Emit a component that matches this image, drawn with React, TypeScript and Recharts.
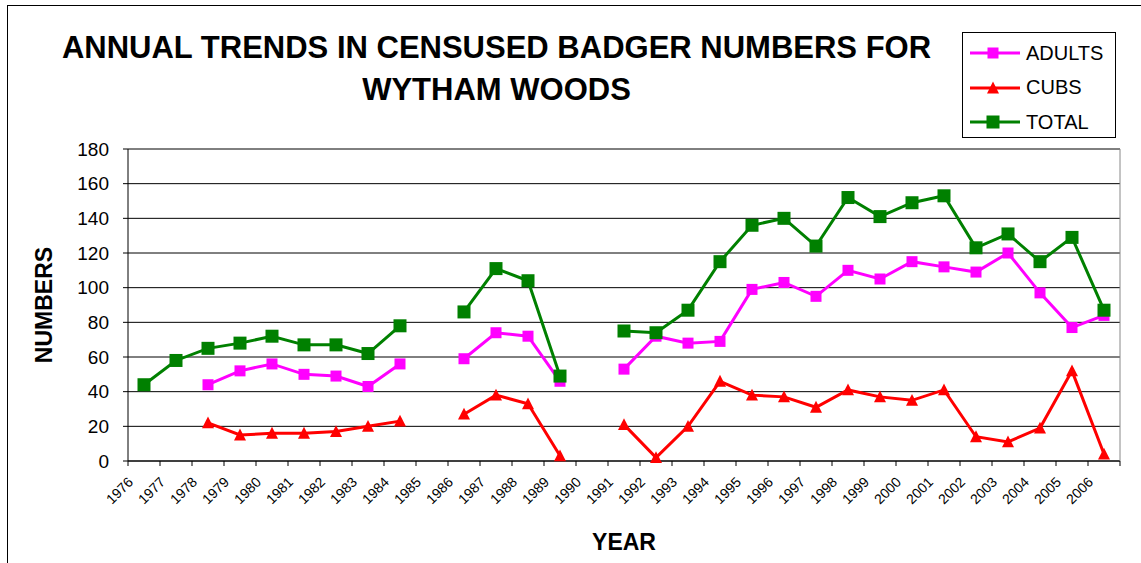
import React from 'react';
import { LineChart, Line, XAxis, YAxis, CartesianGrid, Label } from 'recharts';

const years = [
  '1976', '1977', '1978', '1979', '1980', '1981', '1982', '1983', '1984', '1985',
  '1986', '1987', '1988', '1989', '1990', '1991', '1992', '1993', '1994', '1995',
  '1996', '1997', '1998', '1999', '2000', '2001', '2002', '2003', '2004', '2005', '2006',
];

const adults = [
  null, null, 44, 52, 56, 50, 49, 43, 56, null,
  59, 74, 72, 46, null, 53, 72, 68, 69, 99,
  103, 95, 110, 105, 115, 112, 109, 120, 97, 77, 84,
];

const cubs = [
  null, null, 22, 15, 16, 16, 17, 20, 23, null,
  27, 38, 33, 3, null, 21, 2, 20, 46, 38,
  37, 31, 41, 37, 35, 41, 14, 11, 19, 52, 4,
];

const total = [
  44, 58, 65, 68, 72, 67, 67, 62, 78, null,
  86, 111, 104, 49, null, 75, 74, 87, 115, 136,
  140, 124, 152, 141, 149, 153, 123, 131, 115, 129, 87,
];

const yTicks = [0, 20, 40, 60, 80, 100, 120, 140, 160, 180];

const data = years.map((year, i) => ({
  year,
  adults: adults[i],
  cubs: cubs[i],
  total: total[i],
}));

const FONT = '"Liberation Sans", Arial, sans-serif';

const series = [
  { key: 'adults', name: 'ADULTS', color: '#FF00FF', shape: 'square', size: 11 },
  { key: 'cubs', name: 'CUBS', color: '#FF0000', shape: 'triangle', size: 12 },
  { key: 'total', name: 'TOTAL', color: '#008000', shape: 'square', size: 13 },
];

const Marker = ({ cx, cy, shape, size, color }: any) => {
  if (shape === 'triangle') {
    const h = size * 0.9;
    return (
      <polygon
        points={`${cx},${cy - h / 2 - 1} ${cx - size / 2},${cy + h / 2} ${cx + size / 2},${cy + h / 2}`}
        fill={color}
      />
    );
  }
  return <rect x={cx - size / 2} y={cy - size / 2} width={size} height={size} fill={color} />;
};

const makeDot = (s: any) => (props: any) => {
  const { cx, cy, value, index } = props;
  if (value == null || cx == null || cy == null) return <g key={index} />;
  return (
    <g key={index}>
      <Marker cx={cx} cy={cy} shape={s.shape} size={s.size} color={s.color} />
    </g>
  );
};

const YearTick = (props: any) => {
  const { x, payload, index, width, visibleTicksCount } = props;
  const band = width / visibleTicksCount;
  const axisY = 461;
  const tx = x - 10;
  const ty = axisY + 22;
  return (
    <g>
      <line x1={x - band / 2} y1={axisY} x2={x - band / 2} y2={axisY + 5} stroke="#000" />
      {index === visibleTicksCount - 1 && (
        <line x1={x + band / 2} y1={axisY} x2={x + band / 2} y2={axisY + 5} stroke="#000" />
      )}
      <text
        x={tx}
        y={ty}
        transform={`rotate(-45 ${tx} ${ty})`}
        textAnchor="end"
        fontSize={14}
        fontFamily={FONT}
        fill="#000"
      >
        {payload.value}
      </text>
    </g>
  );
};

const NumbersLabel = (props: any) => {
  const { viewBox } = props;
  const cx = 44;
  const cy = viewBox.y + viewBox.height / 2;
  return (
    <text
      x={cx}
      y={cy}
      transform={`rotate(-90 ${cx} ${cy})`}
      textAnchor="middle"
      dominantBaseline="central"
      fontSize={23}
      fontWeight="bold"
      fontFamily={FONT}
      fill="#000"
    >
      NUMBERS
    </text>
  );
};

export default function App() {
  return (
    <div style={{ position: 'absolute', left: 0, top: 0, width: 1141, height: 563, background: '#fff', fontFamily: FONT }}>
      <div
        style={{
          position: 'absolute',
          left: 7,
          top: 5,
          width: 1140,
          height: 560,
          borderLeft: '1px solid #000',
          borderTop: '1px solid #000',
        }}
      />
      <div
        style={{
          position: 'absolute',
          left: 0,
          top: 27,
          width: 993,
          textAlign: 'center',
          fontSize: 31,
          lineHeight: '42px',
          fontWeight: 'bold',
          color: '#000',
        }}
      >
        ANNUAL TRENDS IN CENSUSED BADGER NUMBERS FOR
        <br />
        WYTHAM WOODS
      </div>

      <LineChart
        width={1141}
        height={563}
        data={data}
        margin={{ top: 149, right: 0, bottom: 0, left: 0 }}
        style={{ position: 'absolute', left: 0, top: 0 }}
      >
        <CartesianGrid horizontal vertical={false} stroke="#000" strokeWidth={1} />
        <XAxis
          dataKey="year"
          scale="band"
          height={102}
          interval={0}
          tickLine={false}
          axisLine={{ stroke: '#000' }}
          tick={<YearTick />}
        >
          <Label
            value="YEAR"
            position="insideBottom"
            offset={13}
            style={{ fontSize: 23, fontWeight: 'bold', fontFamily: FONT, fill: '#000' }}
          />
        </XAxis>
        <YAxis
          width={128}
          domain={[0, 180]}
          ticks={yTicks}
          interval={0}
          tickSize={5}
          tickMargin={14}
          axisLine={{ stroke: '#000' }}
          tickLine={{ stroke: '#000' }}
          tick={{ fontSize: 19, fontFamily: FONT, fill: '#000' }}
        >
          <Label content={<NumbersLabel />} />
        </YAxis>
        <YAxis
          yAxisId="right"
          orientation="right"
          width={21}
          tick={false}
          tickLine={false}
          axisLine={{ stroke: '#888' }}
        />
        {series.map((s) => (
          <Line
            key={s.key}
            dataKey={s.key}
            name={s.name}
            stroke={s.color}
            strokeWidth={3}
            dot={makeDot(s)}
            activeDot={false}
            isAnimationActive={false}
            connectNulls={false}
          />
        ))}
      </LineChart>

      <div
        style={{
          position: 'absolute',
          left: 962,
          top: 32,
          width: 154,
          height: 106,
          border: '1px solid #000',
          background: '#fff',
          boxSizing: 'border-box',
        }}
      >
        {series.map((s, i) => (
          <div
            key={s.key}
            style={{
              position: 'absolute',
              left: 6,
              top: 20 + i * 34.5 - 12,
              height: 24,
              display: 'flex',
              alignItems: 'center',
            }}
          >
            <svg width={52} height={24}>
              <line x1={1} y1={12} x2={51} y2={12} stroke={s.color} strokeWidth={3} />
              <Marker cx={24} cy={12} shape={s.shape} size={s.size} color={s.color} />
            </svg>
            <span style={{ marginLeft: 5, fontSize: 20, color: '#000' }}>{s.name}</span>
          </div>
        ))}
      </div>
    </div>
  );
}
